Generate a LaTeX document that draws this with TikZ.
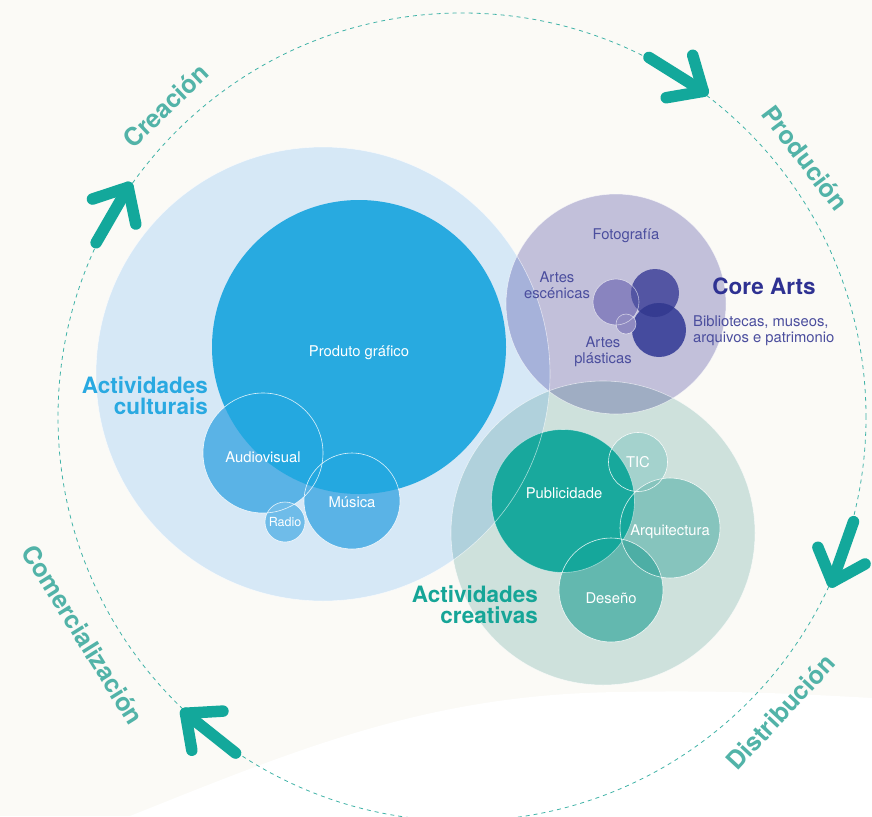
\documentclass[tikz,border=0pt]{standalone}
\usepackage{fontspec}
\setmainfont{TeX Gyre Heros}
\usepackage{tikz}

\definecolor{paper}{HTML}{FBFAF6}
\definecolor{cycleteal}{HTML}{13A89B}
\definecolor{cyclelabelteal}{HTML}{52B3A8}
\definecolor{dashteal}{HTML}{3FB3A7}
\definecolor{culturalbg}{HTML}{D6E8F6}
\definecolor{culturaltext}{HTML}{29A9E1}
\definecolor{produtoblue}{HTML}{23A8E0}
\definecolor{audioblue}{HTML}{5AB3E6}
\definecolor{radioblue}{HTML}{6FBCE9}
\definecolor{corebg}{HTML}{C6C4E2}
\definecolor{coretext}{HTML}{2E3192}
\definecolor{corepurple}{HTML}{4B4E9E}
\definecolor{escenicas}{HTML}{8984BF}
\definecolor{fotodark}{HTML}{5355A3}
\definecolor{bibliodark}{HTML}{454B9E}
\definecolor{corenight}{HTML}{353B91}
\definecolor{plasticas}{HTML}{8F8AC1}
\definecolor{creativebg}{HTML}{D2E6E5}
\definecolor{creativetext}{HTML}{16A597}
\definecolor{publiteal}{HTML}{12A79B}
\definecolor{ticteal}{HTML}{A4D2CD}
\definecolor{arquiteal}{HTML}{86C4BD}
\definecolor{desenoteal}{HTML}{63B8AF}
\definecolor{arquidesteal}{HTML}{4DAEA5}

\tikzset{
	ring/.style={draw=white,line width=0.6pt,draw opacity=0.85},
	arrowline/.style={draw=cycleteal,line width=11.5pt,line cap=round,line join=round},
	cyclearrow/.pic={
		\draw[arrowline] (-32,0) -- (32,0);
		\draw[arrowline] (4,25) -- (32,0) -- (4,-25);
	},
	cyclelabel/.style={text=cyclelabelteal,font=\bfseries\fontsize{25}{25}\selectfont,inner sep=0},
	bubblelabel/.style={text=white,font=\fontsize{14.8}{16}\selectfont,inner sep=0},
	corelabel/.style={text=corepurple,font=\fontsize{14.8}{16}\selectfont,inner sep=0,align=center},
	grouplabel/.style={font=\bfseries\fontsize{22.5}{21}\selectfont,inner sep=0,align=right},
}

\begin{document}
\begin{tikzpicture}[x=1pt,y=1pt]
	\useasboundingbox (0,0) rectangle (872,-816);
	\fill[paper] (0,0) rectangle (872,-816);
	\fill[white] (130,-816) .. controls (300,-748) and (430,-694) .. (620,-692) .. controls (730,-690) and (800,-694) .. (872,-698) -- (872,-816) -- cycle;

	%cycle
	\begin{scope}[shift={(462,-417)}]
		\draw[dashteal,line width=0.8pt,dash pattern=on 4pt off 4pt] (0,0) circle (404);
		\pic[rotate=60] at (150:404) {cyclearrow};
		\pic[rotate=-32] at (58:404) {cyclearrow};
		\pic[rotate=-109.5] at (-19.5:404) {cyclearrow};
		\pic[rotate=141.5] at (231.5:404) {cyclearrow};
		\node[cyclelabel,rotate=43.6] (creacion) at (133.6:430) {Creación};
		\node[cyclelabel,rotate=-53] (producion) at (37:430) {Produción};
		\node[cyclelabel,rotate=47.2] (distribucion) at (-42.8:434) {Distribución};
		\node[cyclelabel,rotate=-58] (comercializacion) at (209.9:437) {Comercialización};
	\end{scope}

	%culturais
	\fill[culturalbg] (323,-374) circle (227);
	\fill[audioblue] (263,-453) circle (60);
	\fill[audioblue] (352,-501) circle (48);
	\fill[radioblue] (285,-522) circle (20);
	\fill[produtoblue,fill opacity=0.97] (359,-347) circle (147);
	\draw[ring] (263,-453) circle (60);
	\draw[ring] (352,-501) circle (48);
	\draw[ring] (285,-522) circle (20);

	%core arts
	\fill[corebg,blend mode=multiply] (616,-304) circle (110);
	\fill[escenicas] (616,-302) circle (23);
	\fill[fotodark] (655,-293) circle (24);
	\fill[bibliodark] (659,-330) circle (27);
	\begin{scope}
		\clip (655,-293) circle (24);
		\fill[corenight] (659,-330) circle (27);
	\end{scope}
	\fill[plasticas] (626,-324) circle (10);
	\draw[ring,draw opacity=0.6] (616,-302) circle (23);
	\draw[ring,draw opacity=0.6] (626,-324) circle (10);

	%creativas
	\fill[creativebg,blend mode=multiply] (603,-533) circle (152);
	\fill[ticteal] (638,-462) circle (29.5);
	\fill[arquiteal] (670,-528) circle (50);
	\fill[desenoteal] (611,-590) circle (52);
	\begin{scope}
		\clip (670,-528) circle (50);
		\fill[arquidesteal] (611,-590) circle (52);
	\end{scope}
	\fill[publiteal,fill opacity=0.96] (563,-501) circle (71.5);
	\draw[ring] (638,-462) circle (29.5);
	\draw[ring] (670,-528) circle (50);
	\draw[ring] (611,-590) circle (52);
	\draw[ring,draw opacity=0.5] (563,-501) circle (71.5);

	%outer rings
	\draw[ring,draw opacity=0.6] (323,-374) circle (227);
	\draw[ring,draw opacity=0.6] (616,-304) circle (110);
	\draw[ring,draw opacity=0.6] (603,-533) circle (152);

	%labels
	\node[bubblelabel] (produto) at (359,-353) {Produto gráfico};
	\node[bubblelabel] (audiovisual) at (263,-457) {Audiovisual};
	\node[bubblelabel] (musica) at (352,-502) {Música};
	\node[bubblelabel,font=\fontsize{12.5}{14}\selectfont] (radio) at (285,-522) {Radio};
	\node[grouplabel,text=culturaltext,anchor=east] (culturais) at (208,-395.5) {Actividades\\culturais};

	\node[corelabel] (fotografia) at (626,-236) {Fotografía};
	\node[corelabel] (escenicaslabel) at (557,-285) {Artes\\escénicas};
	\node[corelabel] (plasticaslabel) at (603,-352) {Artes\\plásticas};
	\node[corelabel,align=left,anchor=west] (bibliotecas) at (693,-331) {Bibliotecas, museos,\\arquivos e patrimonio};
	\node[grouplabel,text=coretext,align=center] (corearts) at (764,-286) {Core Arts};

	\node[bubblelabel] (publicidade) at (564,-493) {Publicidade};
	\node[bubblelabel] (tic) at (638,-462) {TIC};
	\node[bubblelabel] (arquitectura) at (670,-532) {Arquitectura};
	\node[bubblelabel] (deseno) at (611,-598) {Deseño};
	\node[grouplabel,text=creativetext,anchor=east] (creativas) at (538,-604.5) {Actividades\\creativas};
\end{tikzpicture}
\end{document}
